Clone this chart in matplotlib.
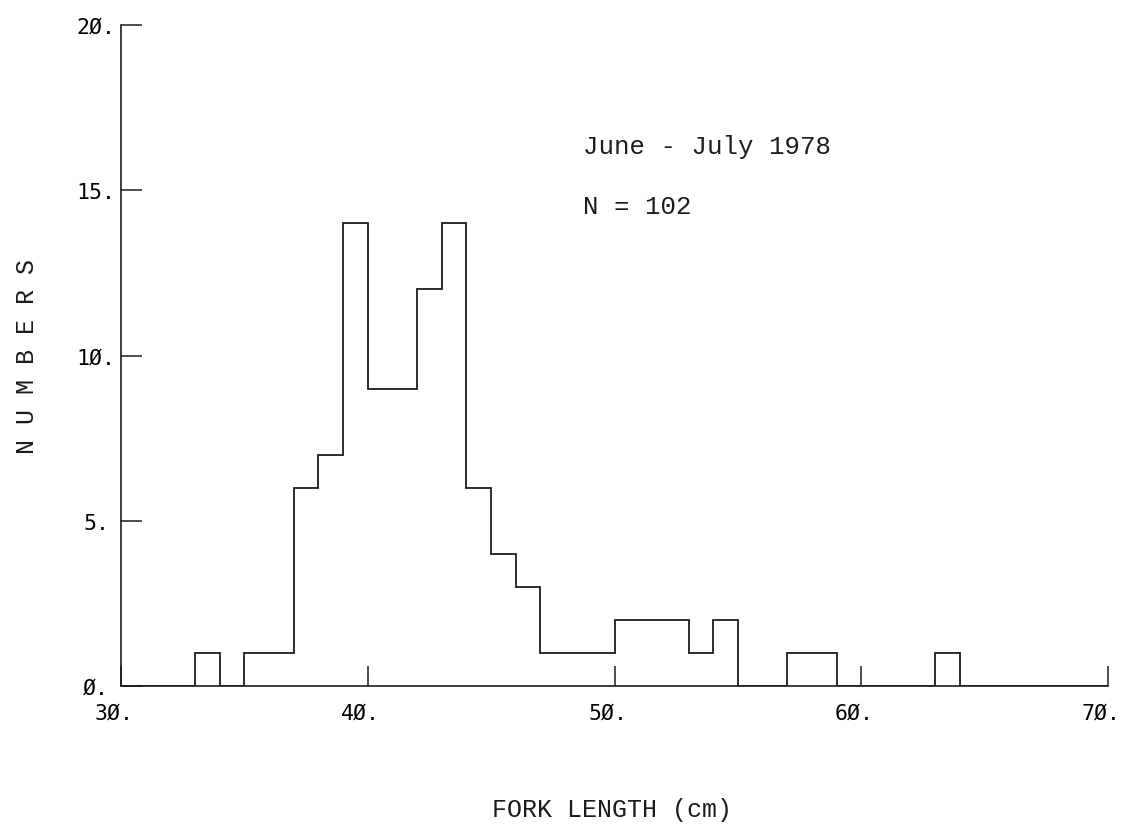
import matplotlib
matplotlib.use("Agg")
from matplotlib import pyplot as plt
import matplotlib.transforms as mtransforms

# 1 cm bins from 30 to 70, counts
bin_edges = list(range(30, 71))
counts = [0, 0, 0, 1, 0, 1, 1, 6, 7, 14,
          9, 9, 12, 14, 6, 4, 3, 1, 1, 1,
          2, 2, 2, 1, 2, 0, 0, 1, 1, 0,
          0, 0, 0, 1, 0, 0, 0, 0, 0, 0]

x_ticks = [30, 40, 50, 60, 70]
x_tick_labels = ["3Ø.", "4Ø.", "5Ø.", "6Ø.", "7Ø."]
y_ticks = [0, 5, 10, 15, 20]
y_tick_labels = ["Ø.", "5.", "1Ø.", "15.", "2Ø."]

ink = "#1c1c1c"
mono = ["Liberation Mono", "DejaVu Sans Mono"]
tick_font = ["DejaVu Sans Mono"]

fig = plt.figure(figsize=(11.27, 8.28), dpi=100)
ax = fig.add_axes([121 / 1127, 1 - 687 / 828, (1108 - 121) / 1127, (687 - 26) / 828])

ax.stairs(counts, bin_edges, color=ink, linewidth=1.3)

ax.set_xlim(30, 70)
ax.set_ylim(0, 20)
ax.spines["top"].set_visible(False)
ax.spines["right"].set_visible(False)
for s in ("left", "bottom"):
    ax.spines[s].set_color(ink)
    ax.spines[s].set_linewidth(1.2)

ax.set_xticks(x_ticks)
ax.set_xticklabels(x_tick_labels, family=tick_font, fontsize=15.5)
ax.set_yticks(y_ticks)
ax.set_yticklabels(y_tick_labels, family=tick_font, fontsize=15.5)
ax.tick_params(axis="x", direction="in", length=14.5, width=1.1, color=ink, pad=12)
ax.tick_params(axis="y", direction="in", length=15, width=1.1, color=ink, pad=18)
for lab in ax.get_yticklabels():
    lab.set_horizontalalignment("center")

# the old plotter put the x labels a little left of the ticks
shift = mtransforms.ScaledTranslation(-7 / 100, 0, fig.dpi_scale_trans)
for lab in ax.get_xticklabels():
    lab.set_transform(lab.get_transform() + shift)

ax.text(48.72, 16.34, "June - July 1978", family=mono, fontsize=18.5,
        va="center", ha="left", color=ink)
ax.text(48.72, 14.52, "N = 102", family=mono, fontsize=18.5,
        va="center", ha="left", color=ink)

fig.text(612 / 1127, 1 - 810 / 828, "FORK LENGTH (cm)", family=mono,
         fontsize=18, ha="center", va="center", color=ink)
fig.text(27 / 1127, 1 - 357 / 828, "N U M B E R S", family=mono,
         fontsize=18, rotation=90, ha="center", va="center", color=ink)

fig.savefig("out.png", dpi=100, facecolor="white")
